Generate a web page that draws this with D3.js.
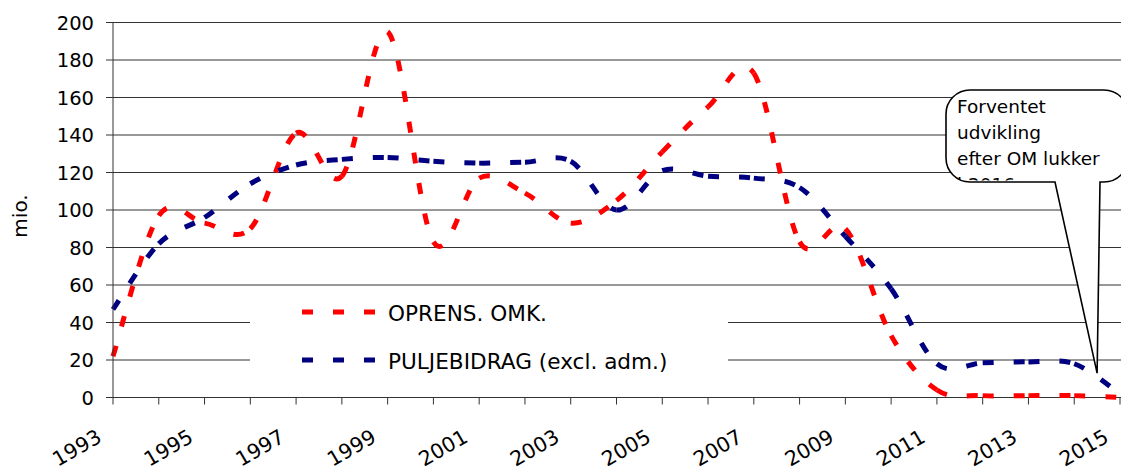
<!DOCTYPE html>
<html>
<head>
<meta charset="utf-8">
<script src="https://cdn.jsdelivr.net/npm/d3@7"></script>
<style>
  body { margin: 0; background: #fff; }
  text { font-family: "DejaVu Sans", Verdana, sans-serif; fill: #000; }
</style>
</head>
<body>
<svg id="chart" width="1121" height="471"></svg>
<script>
// years on the category axis, labels shown every second year
var years = [1993, 1994, 1995, 1996, 1997, 1998, 1999, 2000, 2001, 2002, 2003, 2004,
             2005, 2006, 2007, 2008, 2009, 2010, 2011, 2012, 2013, 2014, 2015];
var yearLabels = [1993, 1995, 1997, 1999, 2001, 2003, 2005, 2007, 2009, 2011, 2013, 2015];
var yTicks = [0, 20, 40, 60, 80, 100, 120, 140, 160, 180, 200];

// mio. per year
var oprensOmk = [22, 97, 93, 90, 141, 118, 195, 83, 117, 109, 93, 105,
                 131, 155, 173, 83, 90, 33, 4, 1, 1, 1, 0];
var puljebidrag = [47, 82, 96, 114, 124, 127, 128, 126, 125, 125.5, 126, 100,
                   121, 118, 117, 112, 86, 58, 18, 18.5, 19, 18, 2];

var seriesNames = ['OPRENS. OMK.', 'PULJEBIDRAG (excl. adm.)'];
var calloutLines = ['Forventet', 'udvikling', 'efter OM lukker', 'i 2016'];

var svg = d3.select('#chart');
var plotLeft = 113, plotRight = 1120, plotTop = 22.5, plotBottom = 397.5;

var x = d3.scaleLinear().domain([1993, 2015]).range([plotLeft, plotRight]);
var y = d3.scaleLinear().domain([0, 200]).range([plotBottom, plotTop]);

// horizontal gridlines
svg.append('g')
    .selectAll('line')
    .data(yTicks)
    .enter().append('line')
        .attr('x1', plotLeft)
        .attr('x2', 1121)
        .attr('y1', function(d) { return y(d); })
        .attr('y2', function(d) { return y(d); })
        .style('stroke', '#333')
        .style('stroke-width', 1);

// legend box sits over the lower gridlines
var legend = svg.append('g');
legend.append('rect')
    .attr('x', 250).attr('y', 292)
    .attr('width', 478).attr('height', 93)
    .style('fill', '#fff');

// Excel style smoothing, one path per interval so the dash restarts at every point
function segments(vals) {
    var pts = vals.map(function(v, i) { return [x(years[i]), y(v)]; });
    var out = [];
    for (var i = 0; i < pts.length - 1; i++) {
        var p0 = pts[Math.max(i - 1, 0)], p1 = pts[i], p2 = pts[i + 1],
            p3 = pts[Math.min(i + 2, pts.length - 1)];
        var p = d3.path();
        p.moveTo(p1[0], p1[1]);
        p.bezierCurveTo(p1[0] + (p2[0] - p0[0]) / 6, p1[1] + (p2[1] - p0[1]) / 6,
                        p2[0] - (p3[0] - p1[0]) / 6, p2[1] - (p3[1] - p1[1]) / 6,
                        p2[0], p2[1]);
        out.push(p.toString());
    }
    return out;
}

function addSeries(vals, colour) {
    svg.append('g')
        .selectAll('path')
        .data(segments(vals))
        .enter().append('path')
            .attr('d', function(d) { return d; })
            .style('fill', 'none')
            .style('stroke', colour)
            .style('stroke-width', 5)
            .style('stroke-dasharray', '11,20');
}
addSeries(oprensOmk, '#ff0000');
addSeries(puljebidrag, '#000080');

// legend entries
var legendRows = [{name: seriesNames[0], colour: '#ff0000', y: 312},
                  {name: seriesNames[1], colour: '#000080', y: 360}];
legendRows.forEach(function(r) {
    legend.append('line')
        .attr('x1', 302).attr('x2', 376)
        .attr('y1', r.y).attr('y2', r.y)
        .style('stroke', r.colour)
        .style('stroke-width', 5)
        .style('stroke-dasharray', '11,20');
    legend.append('text')
        .attr('x', 388)
        .attr('y', r.y + 8.5)
        .style('font-size', '21.6px')
        .text(r.name);
});

// y axis
var yAxis = svg.append('g');
yAxis.append('line')
    .attr('x1', plotLeft).attr('x2', plotLeft)
    .attr('y1', y(200)).attr('y2', y(0))
    .style('stroke', '#333');
yAxis.selectAll('.tick')
    .data(yTicks)
    .enter().append('line')
        .attr('class', 'tick')
        .attr('x1', plotLeft - 7).attr('x2', plotLeft)
        .attr('y1', function(d) { return y(d); })
        .attr('y2', function(d) { return y(d); })
        .style('stroke', '#333');
yAxis.selectAll('text')
    .data(yTicks)
    .enter().append('text')
        .attr('x', 94)
        .attr('y', function(d) { return y(d); })
        .attr('dy', '0.36em')
        .attr('text-anchor', 'end')
        .style('font-size', '19.5px')
        .text(function(d) { return d; });

svg.append('text')
    .attr('transform', 'translate(27,216) rotate(-90)')
    .attr('text-anchor', 'middle')
    .style('font-size', '20px')
    .text('mio.');

// x axis
var xAxis = svg.append('g');
xAxis.selectAll('line')
    .data(years)
    .enter().append('line')
        .attr('x1', function(d) { return x(d); })
        .attr('x2', function(d) { return x(d); })
        .attr('y1', y(0)).attr('y2', y(0) + 7)
        .style('stroke', '#333');
xAxis.selectAll('text')
    .data(yearLabels)
    .enter().append('text')
        .attr('transform', function(d) { return 'translate(' + (x(d) - 10) + ',441) rotate(-30)'; })
        .attr('text-anchor', 'end')
        .style('font-size', '20.5px')
        .text(function(d) { return d; });

// callout
var bx0 = 946, bx1 = 1128, by0 = 90, by1 = 182, r = 24;
var tipX = x(2014.5), tipY = y(13);
var c = d3.path();
c.moveTo(bx0 + r, by0);
c.lineTo(bx1 - r, by0);
c.arcTo(bx1, by0, bx1, by0 + r, r);
c.lineTo(bx1, by1 - r);
c.arcTo(bx1, by1, bx1 - r, by1, r);
c.lineTo(1100, by1);
c.lineTo(tipX, tipY);
c.lineTo(1055, by1);
c.lineTo(bx0 + r, by1);
c.arcTo(bx0, by1, bx0, by1 - r, r);
c.lineTo(bx0, by0 + r);
c.arcTo(bx0, by0, bx0 + r, by0, r);
c.closePath();

var callout = svg.append('g');
callout.append('path')
    .attr('d', c.toString())
    .style('fill', '#fff')
    .style('stroke', '#000')
    .style('stroke-width', 1.6);

svg.append('clipPath').attr('id', 'boxclip')
    .append('rect')
    .attr('x', bx0).attr('y', by0)
    .attr('width', bx1 - bx0).attr('height', by1 - by0 - 1.5);

callout.append('g')
    .attr('clip-path', 'url(#boxclip)')
    .selectAll('text')
    .data(calloutLines)
    .enter().append('text')
        .attr('x', 957)
        .attr('y', function(d, i) { return 113 + i * 26; })
        .style('font-size', '18.5px')
        .text(function(d) { return d; });
</script>
</body>
</html>
